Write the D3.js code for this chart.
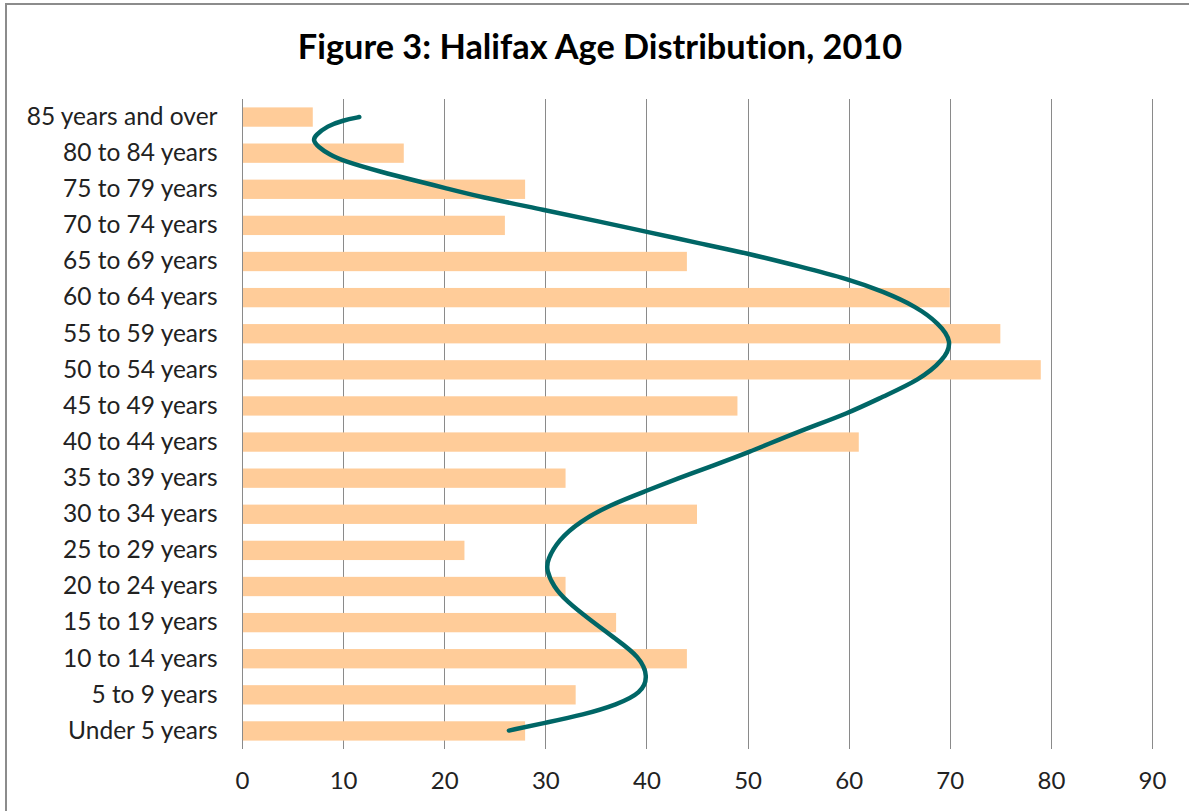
<!DOCTYPE html>
<html>
<head>
<meta charset="utf-8">
<script src="https://cdn.jsdelivr.net/npm/d3@7"></script>
<style>
  body { margin: 0; background: #fff; }
  svg { display: block; }
  text { font-variant-ligatures: none; font-feature-settings: "liga" 0; }
</style>
</head>
<body>
<div class="graph"></div>
<script>
// Age groups, listed top to bottom as drawn
const ageGroups = [
  "85 years and over",
  "80 to 84 years",
  "75 to 79 years",
  "70 to 74 years",
  "65 to 69 years",
  "60 to 64 years",
  "55 to 59 years",
  "50 to 54 years",
  "45 to 49 years",
  "40 to 44 years",
  "35 to 39 years",
  "30 to 34 years",
  "25 to 29 years",
  "20 to 24 years",
  "15 to 19 years",
  "10 to 14 years",
  "5 to 9 years",
  "Under 5 years",
];
const counts = [7, 16, 28, 26, 44, 70, 75, 79, 49, 61, 32, 45, 22, 32, 37, 44, 33, 28];

// trend line: row position (0 = top row) and value
const trendRow = [
  0, 0.09, 0.25, 0.5, 0.64, 0.82, 1.05, 1.21, 1.51, 1.79, 1.95, 2.21, 2.57, 2.9,
  3.17, 3.5, 3.77, 4.14, 4.49, 4.83, 5.25, 5.71, 6.22, 6.73, 7.28, 7.74, 8.2,
  8.71, 9.31, 9.68, 10.0, 10.37, 10.74, 11.2, 11.71, 12.26, 12.54, 13.0, 13.41,
  13.92, 14.48, 14.94, 15.49, 15.95, 16.27, 16.55, 16.78, 16.99,
];
const trendValue = [
  11.6, 10.0, 8.4, 7.3, 7.0, 7.5, 8.7, 10.0, 13.6, 17.6, 19.9, 23.5, 29.9, 35.4,
  39.9, 45.3, 49.9, 55.2, 60.0, 63.4, 66.7, 68.9, 70.3, 69.4, 67.0, 63.4, 60.0,
  55.0, 49.9, 46.3, 43.2, 39.8, 36.4, 33.4, 31.3, 30.2, 30.1, 30.8, 32.1, 34.4,
  37.1, 39.3, 40.2, 39.5, 37.1, 33.8, 29.9, 26.4,
];
const xTicks = [0, 10, 20, 30, 40, 50, 60, 70, 80, 90];
const title = "Figure 3: Halifax Age Distribution, 2010";

const width = 1189;
const height = 811;
const margin = { top: 99, right: 37, bottom: 62, left: 242 };
const font = "Lato, Calibri, sans-serif";

const svg = d3
  .select(".graph")
  .append("svg")
  .attr("width", width)
  .attr("height", height)
  .attr("viewBox", [0, 0, width, height]);

// chart area border (right and bottom edges fall outside the picture)
svg
  .append("rect")
  .attr("x", 6)
  .attr("y", 4)
  .attr("width", width + 20)
  .attr("height", height + 20)
  .attr("fill", "#fff")
  .attr("stroke", "#8c8c8c")
  .attr("stroke-width", 2);

const x = d3
  .scaleLinear()
  .domain([0, 90])
  .range([margin.left, width - margin.right]);

const y = d3
  .scaleBand()
  .domain(ageGroups)
  .range([margin.top, height - margin.bottom])
  .paddingInner(0.465)
  .paddingOuter(0.2325);

// vertical gridlines
svg
  .append("g")
  .attr("stroke", "#8a8a8a")
  .attr("stroke-width", 1)
  .selectAll()
  .data(xTicks.slice(1))
  .join("line")
  .attr("x1", (d) => Math.round(x(d)) + 0.5)
  .attr("x2", (d) => Math.round(x(d)) + 0.5)
  .attr("y1", margin.top)
  .attr("y2", height - margin.bottom);

// bars
svg
  .append("g")
  .attr("fill", "#ffcc99")
  .selectAll()
  .data(ageGroups)
  .join("rect")
  .attr("x", x(0))
  .attr("y", (d) => y(d))
  .attr("height", y.bandwidth())
  .attr("width", (d, i) => x(counts[i]) - x(0));

// category axis (line only, labels on the left)
const yAxis = svg
  .append("g")
  .attr("transform", `translate(${Math.round(x(0)) + 0.5},0)`)
  .call(d3.axisLeft(y).tickSize(0).tickPadding(25));
yAxis.select(".domain").attr("stroke", "#8a8a8a").attr("d", `M0,${margin.top}V${height - margin.bottom}`);
yAxis
  .selectAll("text")
  .attr("font-family", font)
  .attr("font-size", 24.5)
  .attr("fill", "#222");

// value axis labels
const xAxis = svg
  .append("g")
  .attr("transform", `translate(0,${height - margin.bottom})`)
  .call(d3.axisBottom(x).tickValues(xTicks).tickSize(0).tickPadding(23));
xAxis.select(".domain").remove();
xAxis
  .selectAll("text")
  .attr("font-family", font)
  .attr("font-size", 24)
  .attr("fill", "#222");

// trend line, rows mapped to band centres
const rowY = d3
  .scaleLinear()
  .domain([0, ageGroups.length - 1])
  .range([y(ageGroups[0]) + y.bandwidth() / 2, y(ageGroups[ageGroups.length - 1]) + y.bandwidth() / 2]);

const trend = d3
  .line()
  .x((d) => x(d[1]))
  .y((d) => rowY(d[0]))
  .curve(d3.curveBasis);

svg
  .append("path")
  .datum(d3.zip(trendRow, trendValue))
  .attr("fill", "none")
  .attr("stroke", "#006666")
  .attr("stroke-width", 4.5)
  .attr("stroke-linecap", "round")
  .attr("d", trend);

// title
svg
  .append("text")
  .attr("x", 600)
  .attr("y", 59)
  .attr("text-anchor", "middle")
  .attr("font-family", font)
  .attr("font-weight", "bold")
  .attr("font-size", 34.3)
  .attr("fill", "#000")
  .text(title);
</script>
</body>
</html>
